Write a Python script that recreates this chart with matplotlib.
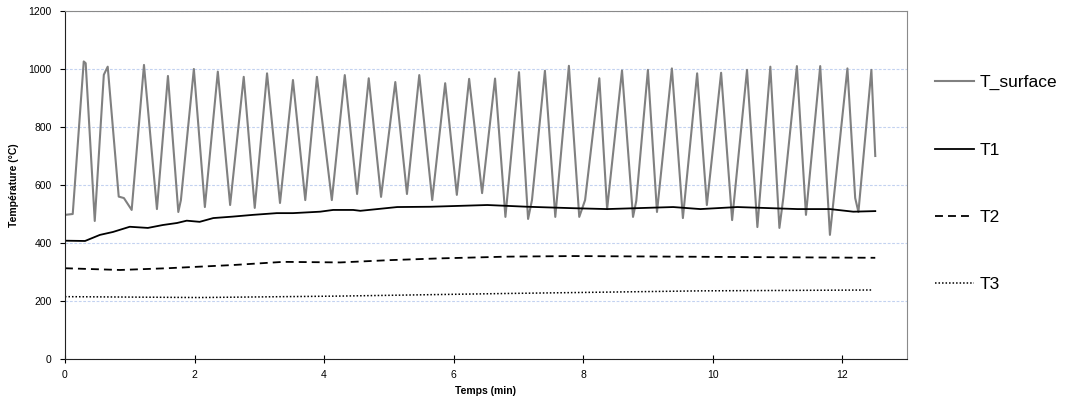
import numpy as np
import matplotlib.pyplot as plt

plt.rcParams["font.family"] = ["Liberation Sans", "DejaVu Sans"]

# T_surface : sommets (temps en min, température en °C)
peak_t = [0.29, 0.66, 1.22, 1.59, 1.99, 2.36, 2.76, 3.12, 3.52, 3.89, 4.32,
          4.69, 5.10, 5.47, 5.87, 6.24, 6.64, 7.01, 7.41, 7.78, 8.25, 8.60,
          9.00, 9.37, 9.76, 10.13, 10.53, 10.89, 11.30, 11.66, 12.08, 12.45]
peak_v = [1026, 1008, 1014, 976, 1000, 991, 973, 985, 962, 973, 979,
          968, 955, 979, 951, 966, 967, 989, 994, 1011, 968, 995,
          997, 1002, 985, 987, 997, 1008, 1010, 1010, 1002, 997]

trough_t = [0.46, 1.03, 1.42, 1.75, 2.16, 2.55, 2.93, 3.32, 3.71, 4.12, 4.51,
            4.88, 5.28, 5.67, 6.05, 6.44, 6.80, 7.15, 7.57, 7.94, 8.37, 8.77,
            9.14, 9.54, 9.91, 10.30, 10.69, 11.03, 11.44, 11.81, 12.25]
trough_v = [476, 514, 517, 507, 524, 531, 521, 538, 548, 548, 569,
            559, 569, 548, 566, 572, 490, 483, 490, 490, 517, 490,
            507, 486, 531, 479, 455, 452, 497, 428, 507]

# points intermédiaires (début, plateaux, petits paliers)
extra_t = [0.00, 0.12, 0.32, 0.60, 0.83, 0.91, 1.79, 7.21, 8.03, 8.82,
           11.09, 12.20, 12.51]
extra_v = [497, 500, 1020, 980, 560, 555, 548, 548, 548, 545,
           555, 555, 700]

t1_t = [0.00, 0.31, 0.54, 0.74, 1.00, 1.28, 1.51, 1.73, 1.88, 2.08, 2.29,
        2.59, 2.90, 3.27, 3.52, 3.94, 4.14, 4.45, 4.56, 5.13, 5.64, 6.52,
        7.14, 7.85, 8.37, 9.39, 9.81, 10.38, 11.31, 11.81, 12.17, 12.51]
t1_v = [408, 407, 428, 438, 456, 452, 462, 469, 477, 473, 486,
        491, 497, 503, 503, 508, 514, 514, 511, 524, 525, 531,
        525, 520, 517, 524, 517, 524, 517, 517, 508, 510]

t2_t = [0.00, 0.85, 1.58, 2.59, 3.37, 4.25, 5.02, 5.79, 6.83, 7.85, 9.39, 12.51]
t2_v = [313, 307, 313, 324, 335, 333, 341, 347, 353, 355, 353, 349]

t3_t = [0.00, 2.08, 4.25, 6.83, 9.81, 12.46]
t3_v = [215, 212, 217, 226, 235, 238]

# assemblage de la courbe T_surface dans l'ordre du temps
ts = np.array(peak_t + trough_t + extra_t)
vs = np.array(peak_v + trough_v + extra_v)
order = np.argsort(ts, kind="stable")
ts, vs = ts[order], vs[order]

fig = plt.figure(figsize=(10.79, 4.01), dpi=100)
ax = fig.add_axes([0.0602, 0.1047, 0.7804, 0.8679])

ax.plot(ts, vs, color="#808080", lw=1.5, label="T_surface")
ax.plot(t1_t, t1_v, color="black", lw=1.3, label="T1")
ax.plot(t2_t, t2_v, color="black", lw=1.3, dashes=(4.4, 2.8), label="T2")
ax.plot(t3_t, t3_v, color="black", lw=1.1, dashes=(1, 1.3), label="T3")

ax.set_xlim(0, 13)
ax.set_ylim(0, 1200)
ax.set_xticks(np.arange(0, 13, 2))
ax.set_yticks(np.arange(0, 1201, 200))
ax.yaxis.grid(True, color="#c3d2f0", ls=(0, (2.5, 1.5)), lw=0.8)
ax.set_axisbelow(True)

for side in ("top", "right"):
    ax.spines[side].set_color("#8a8a8a")
for side in ("left", "bottom"):
    ax.spines[side].set_color("#222222")

ax.tick_params(axis="y", direction="out", length=3.5, width=0.8,
               labelsize=7.5, pad=6)
ax.tick_params(axis="x", direction="inout", length=6, width=0.8,
               labelsize=7.5, pad=5)

ax.set_xlabel("Temps (min)", fontsize=7.5, fontweight="bold", labelpad=4)
ax.set_ylabel("Température (°C)", fontsize=7.5, fontweight="bold", labelpad=7)

fig.legend(loc="upper left", bbox_to_anchor=(0.8605, 0.83), frameon=False,
           fontsize=12.5, handlelength=2.2, handletextpad=0.35,
           labelspacing=3.0, borderaxespad=0)

fig.savefig("out.png", dpi=100)
